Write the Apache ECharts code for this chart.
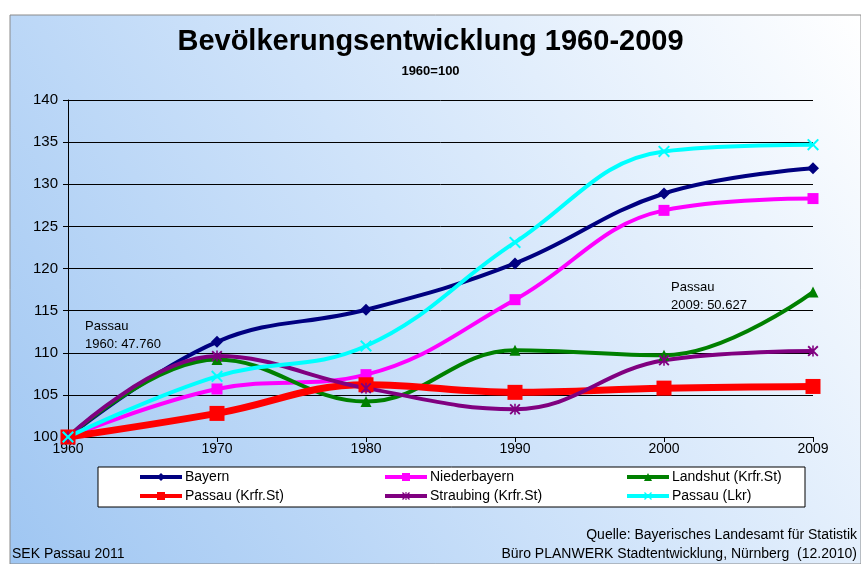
<!DOCTYPE html>
<html>
<head>
<meta charset="utf-8">
<script src="https://cdn.jsdelivr.net/npm/echarts@6/dist/echarts.min.js"></script>
<style>
  html, body { margin: 0; padding: 0; background: #ffffff; }
  #chart { width: 861px; height: 564px; }
</style>
</head>
<body>
<div id="chart"></div>
<script>
// Jahre (x-Achse) und Indexwerte 1960=100
const years = ['1960', '1970', '1980', '1990', '2000', '2009'];
const bayern = [100, 111.3, 115.1, 120.6, 128.9, 131.9];
const niederbayern = [100, 105.7, 107.4, 116.3, 126.9, 128.3];
const landshut = [100, 109.2, 104.2, 110.3, 109.7, 117.2];
const passauKrfr = [100, 102.8, 106.2, 105.3, 105.8, 106.0];
const straubing = [100, 109.6, 105.8, 103.3, 109.1, 110.2];
const passauLkr = [100, 107.2, 110.8, 123.1, 133.9, 134.7];

const font = 'Liberation Sans, Arial, sans-serif';

// Marker-Formen
const xPath = 'path://M0,1.2L1.2,0L5,3.8L8.8,0L10,1.2L6.2,5L10,8.8L8.8,10L5,6.2L1.2,10L0,8.8L3.8,5Z';
const starPath = 'path://M0,1.2L1.2,0L5,3.8L8.8,0L10,1.2L6.2,5L10,8.8L8.8,10L5,6.2L1.2,10L0,8.8L3.8,5Z M4.3,0L5.7,0L5.7,10L4.3,10Z';

function line(name, data, color, width, symbol, size) {
  return {
    name: name,
    type: 'line',
    data: data,
    smooth: 0.4,
    symbol: symbol,
    symbolSize: size,
    showSymbol: true,
    lineStyle: { color: color, width: width },
    itemStyle: { color: color, borderColor: color, borderWidth: 0 },
    emphasis: { disabled: true }
  };
}

// Legende: je Eintrag eine eigene Legende, damit die Spalten fest stehen
const legendNames = ['Bayern', 'Niederbayern', 'Landshut (Krfr.St)', 'Passau (Krfr.St)', 'Straubing (Krfr.St)', 'Passau (Lkr)'];
const legendCols = [138, 383, 625];
const legendRows = [470, 489];
const legends = legendNames.map((name, i) => ({
  data: [name],
  left: legendCols[i % 3],
  top: legendRows[Math.floor(i / 3)],
  itemWidth: 42,
  itemHeight: 10,
  itemGap: 4,
  padding: 0,
  lineStyle: { width: 4 },
  textStyle: { fontFamily: font, fontSize: 14, color: '#000', padding: [0, 0, 0, -2] }
}));

const chart = echarts.init(document.getElementById('chart'), null, { renderer: 'canvas' });

const option = {
  animation: false,
  backgroundColor: '#ffffff',
  title: {
    text: 'Bevölkerungsentwicklung 1960-2009',
    subtext: '1960=100',
    left: 'center',
    top: 22,
    itemGap: 9,
    textStyle: { fontFamily: font, fontSize: 29, fontWeight: 'bold', color: '#000' },
    subtextStyle: { fontFamily: font, fontSize: 13, fontWeight: 'bold', color: '#000' }
  },
  grid: { left: 68, right: 48, top: 100, bottom: 127 },
  legend: legends,
  xAxis: {
    type: 'category',
    data: years,
    boundaryGap: false,
    axisLine: { lineStyle: { color: '#000', width: 1 } },
    axisTick: { show: true, length: 5, lineStyle: { color: '#000' } },
    axisLabel: { fontFamily: font, fontSize: 14, color: '#000', margin: 5 },
    splitLine: { show: false }
  },
  yAxis: {
    type: 'value',
    min: 100,
    max: 140,
    interval: 5,
    axisLine: { show: true, lineStyle: { color: '#000', width: 1 } },
    axisTick: { show: true, length: 5, lineStyle: { color: '#000' } },
    axisLabel: { fontFamily: font, fontSize: 15, color: '#000', margin: 10 },
    splitLine: { show: true, lineStyle: { color: '#000', width: 1 } }
  },
  graphic: [
    {
      type: 'rect',
      z: -10,
      shape: { x: 10, y: 15, width: 851, height: 549 },
      style: {
        fill: {
          type: 'linear', x: 0, y: 1, x2: 1, y2: 0,
          colorStops: [
            { offset: 0, color: '#9fc6f2' },
            { offset: 0.5, color: '#cfe3fa' },
            { offset: 1, color: '#ffffff' }
          ]
        },
        stroke: '#8a8a8a',
        lineWidth: 1
      }
    },
    {
      type: 'rect',
      z: 1,
      shape: { x: 98, y: 467, width: 707, height: 40 },
      style: { fill: '#ffffff', stroke: '#000', lineWidth: 1 }
    },
    {
      type: 'text', left: 85, top: 317, z: 5,
      style: { text: 'Passau\n1960: 47.760', font: '13px ' + font, fill: '#000', lineHeight: 18 }
    },
    {
      type: 'text', left: 671, top: 278, z: 5,
      style: { text: 'Passau\n2009: 50.627', font: '13px ' + font, fill: '#000', lineHeight: 18 }
    },
    {
      type: 'text', left: 12, top: 547, z: 5,
      style: { text: 'SEK Passau 2011', font: '14px ' + font, fill: '#000' }
    },
    {
      type: 'text', right: 4, top: 528, z: 5,
      style: { text: 'Quelle: Bayerisches Landesamt für Statistik', font: '14px ' + font, fill: '#000', textAlign: 'right' }
    },
    {
      type: 'text', right: 4, top: 547, z: 5,
      style: { text: 'Büro PLANWERK Stadtentwicklung, Nürnberg  (12.2010)', font: '14px ' + font, fill: '#000', textAlign: 'right' }
    }
  ],
  series: [
    line('Bayern', bayern, '#000080', 4, 'diamond', 12),
    line('Niederbayern', niederbayern, '#ff00ff', 4, 'rect', 11),
    line('Landshut (Krfr.St)', landshut, '#008000', 4, 'triangle', 11),
    line('Passau (Krfr.St)', passauKrfr, '#ff0000', 7, 'rect', 15),
    line('Straubing (Krfr.St)', straubing, '#800080', 4, starPath, 11),
    line('Passau (Lkr)', passauLkr, '#00ffff', 4, xPath, 12)
  ]
};

chart.setOption(option);
</script>
</body>
</html>
